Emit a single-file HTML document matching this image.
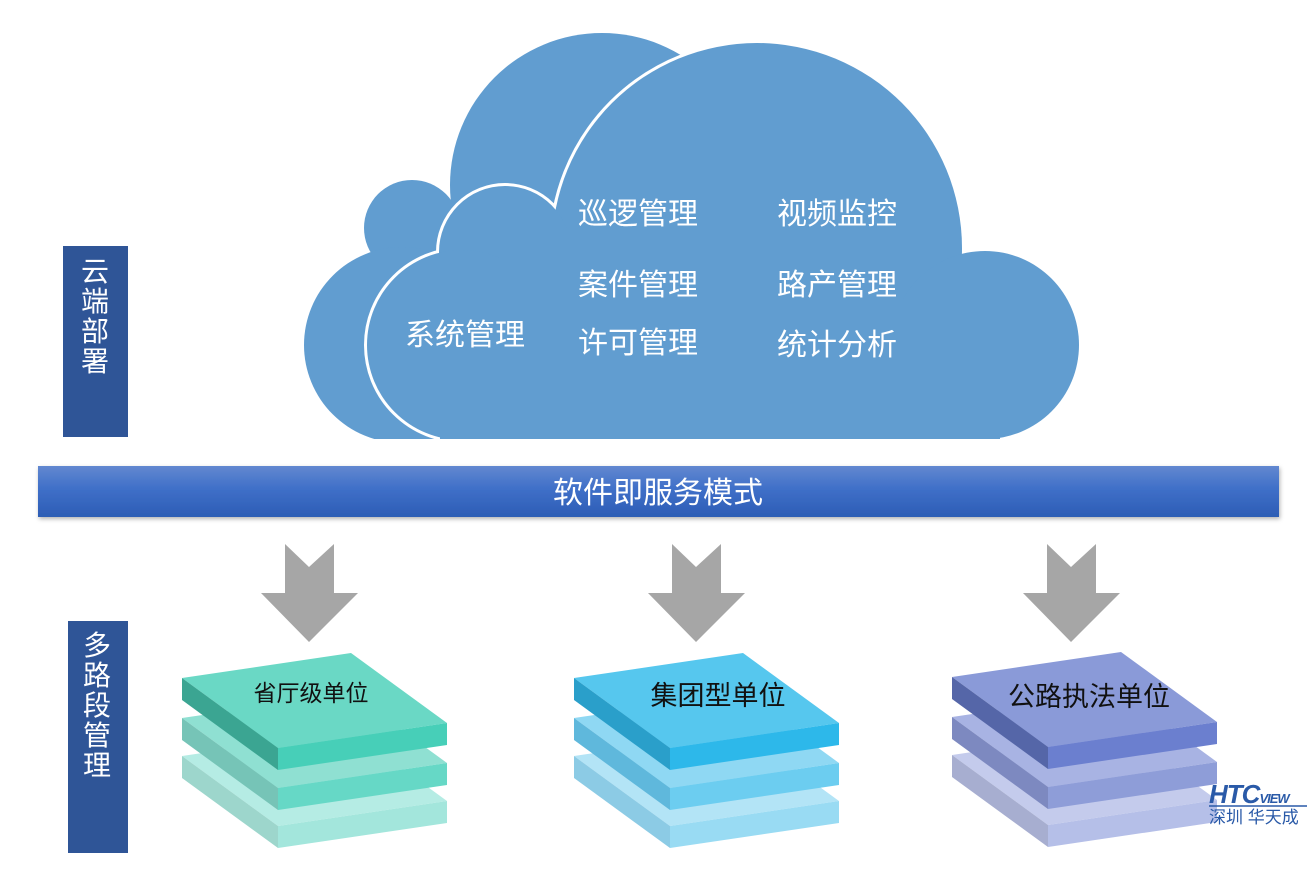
<!DOCTYPE html>
<html><head><meta charset="utf-8"><style>
html,body{margin:0;padding:0;background:#fff;}
svg{display:block;}
text{font-family:"Liberation Sans","Noto Sans CJK SC",sans-serif;}
</style></head><body>
<svg width="1308" height="879" viewBox="0 0 1308 879" xmlns="http://www.w3.org/2000/svg">
<defs>
<linearGradient id="bar" x1="0" y1="0" x2="0" y2="1">
<stop offset="0" stop-color="#6288d0"/><stop offset="0.45" stop-color="#3f6fc8"/><stop offset="1" stop-color="#2d5db5"/>
</linearGradient>
<filter id="sh" x="-5%" y="-5%" width="110%" height="120%"><feDropShadow dx="1" dy="2" stdDeviation="2" flood-color="#000" flood-opacity="0.3"/></filter>
<clipPath id="cl"><rect x="0" y="0" width="1308" height="439"/></clipPath>
</defs>
<g clip-path="url(#cl)">
<!-- cloud back -->
<g fill="#619dd0">
<circle cx="602" cy="185" r="152"/>
<circle cx="412" cy="228" r="48"/>
<circle cx="402" cy="345" r="98"/>
<rect x="400" y="250" width="300" height="190"/>
</g>
<!-- cloud front outline -->
<g fill="#619dd0" stroke="#fff" stroke-width="6">
<circle cx="757" cy="248" r="205"/>
<circle cx="505" cy="252" r="66"/>
<circle cx="462" cy="345" r="95"/>
<circle cx="985" cy="345" r="94"/>
<rect x="440" y="300" width="560" height="145"/>
<rect x="500" y="230" width="260" height="215"/>
</g>
<g fill="#619dd0">
<circle cx="757" cy="248" r="205"/>
<circle cx="505" cy="252" r="66"/>
<circle cx="462" cy="345" r="95"/>
<circle cx="985" cy="345" r="94"/>
<rect x="440" y="300" width="560" height="145"/>
<rect x="500" y="230" width="260" height="215"/>
</g>
</g>
<g fill="#fff" font-size="30">
<text x="578" y="224">巡逻管理</text>
<text x="777" y="224">视频监控</text>
<text x="578" y="295">案件管理</text>
<text x="777" y="295">路产管理</text>
<text x="405" y="345">系统管理</text>
<text x="578" y="353">许可管理</text>
<text x="777" y="355">统计分析</text>
</g>
<!-- left labels -->
<rect x="63" y="246" width="65" height="191" fill="#2f5597"/>
<g fill="#fff" font-size="28" text-anchor="middle">
<text x="95" y="281">云</text><text x="95" y="311">端</text><text x="95" y="341">部</text><text x="95" y="371">署</text>
</g>
<rect x="68" y="621" width="60" height="232" fill="#2f5597"/>
<g fill="#fff" font-size="28" text-anchor="middle">
<text x="97" y="655">多</text><text x="97" y="685">路</text><text x="97" y="715">段</text><text x="97" y="745">管</text><text x="97" y="775">理</text>
</g>
<!-- bar -->
<rect x="38" y="466" width="1241" height="51" fill="url(#bar)" filter="url(#sh)"/>
<text x="658" y="503" fill="#fff" font-size="30" text-anchor="middle">软件即服务模式</text>
<!-- arrows -->
<g fill="#a6a6a6">
<polygon points="285,544 309,567 334,544 334,593 358,593 309,642 261,593 285,593"/>
<polygon points="672,544 696,567 721,544 721,593 745,593 696,642 648,593 672,593"/>
<polygon points="1047,544 1071,567 1096,544 1096,593 1120,593 1071,642 1023,593 1047,593"/>
</g>
<!-- stacks -->
<g transform="translate(182,678)">
<g transform="translate(0,78)"><polygon points="0,0 169,-25 265,45 96,70" fill="#b5ece4"/><polygon points="0,0 96,70 96,92 0,22" fill="#9dd6cc"/><polygon points="96,70 265,45 265,67 96,92" fill="#a3e6dc"/></g>
<g transform="translate(0,40)"><polygon points="0,0 169,-25 265,45 96,70" fill="#8fe0d2"/><polygon points="0,0 96,70 96,92 0,22" fill="#76c4b7"/><polygon points="96,70 265,45 265,67 96,92" fill="#66d8c6"/></g>
<g><polygon points="0,0 169,-25 265,45 96,70" fill="#6ad8c5"/><polygon points="0,0 96,70 96,92 0,22" fill="#3ba592"/><polygon points="96,70 265,45 265,67 96,92" fill="#47cfb8"/></g>
</g>
<text x="311" y="701" font-size="23" text-anchor="middle" fill="#111">省厅级单位</text>
<g transform="translate(574,678)">
<g transform="translate(0,78)"><polygon points="0,0 169,-25 265,45 96,70" fill="#b3e4f6"/><polygon points="0,0 96,70 96,92 0,22" fill="#8ccbe5"/><polygon points="96,70 265,45 265,67 96,92" fill="#99dbf3"/></g>
<g transform="translate(0,40)"><polygon points="0,0 169,-25 265,45 96,70" fill="#8fd8f3"/><polygon points="0,0 96,70 96,92 0,22" fill="#5fb8dc"/><polygon points="96,70 265,45 265,67 96,92" fill="#6ccdf0"/></g>
<g><polygon points="0,0 169,-25 265,45 96,70" fill="#56c7ee"/><polygon points="0,0 96,70 96,92 0,22" fill="#2a9fca"/><polygon points="96,70 265,45 265,67 96,92" fill="#2db8ea"/></g>
</g>
<text x="718" y="705" font-size="27" text-anchor="middle" fill="#111">集团型单位</text>
<g transform="translate(952,677)">
<g transform="translate(0,78)"><polygon points="0,0 169,-25 265,45 96,70" fill="#c4cbec"/><polygon points="0,0 96,70 96,92 0,22" fill="#a7aed0"/><polygon points="96,70 265,45 265,67 96,92" fill="#b5bfe8"/></g>
<g transform="translate(0,40)"><polygon points="0,0 169,-25 265,45 96,70" fill="#a8b3e3"/><polygon points="0,0 96,70 96,92 0,22" fill="#7d89c0"/><polygon points="96,70 265,45 265,67 96,92" fill="#8e9dd8"/></g>
<g><polygon points="0,0 169,-25 265,45 96,70" fill="#8a9ad8"/><polygon points="0,0 96,70 96,92 0,22" fill="#5566a8"/><polygon points="96,70 265,45 265,67 96,92" fill="#6b7fcf"/></g>
</g>
<text x="1089" y="706" font-size="27" text-anchor="middle" fill="#111">公路执法单位</text>
<!-- logo -->
<text x="1209" y="803" font-size="26" font-weight="bold" font-style="italic" fill="#2a5aa8" letter-spacing="-1">HTC<tspan font-size="13">VIEW</tspan></text>
<line x1="1209" y1="806" x2="1307" y2="806" stroke="#2a5aa8" stroke-width="1.5"/>
<text x="1209" y="823" font-size="17" fill="#2a5aa8">深圳 华天成</text>
</svg>
</body></html>
